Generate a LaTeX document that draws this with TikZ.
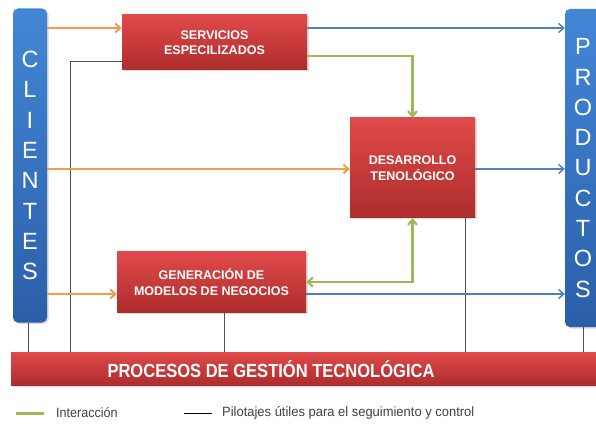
\documentclass[tikz,border=0pt]{standalone}
\usepackage{fontspec}
\setmainfont{Liberation Sans}
\usetikzlibrary{arrows.meta,shadows}
\definecolor{boxtop}{HTML}{E04A4A}
\definecolor{boxbot}{HTML}{AE2C2C}
\definecolor{bartop}{HTML}{4287D6}
\definecolor{barbot}{HTML}{2B5EA9}
\definecolor{orangeA}{HTML}{F39C50}
\definecolor{greenA}{HTML}{9BBB59}
\definecolor{blueA}{HTML}{4F81BD}
\definecolor{pilot}{HTML}{505050}
\definecolor{legtext}{HTML}{404040}
\begin{document}
\begin{tikzpicture}[x=1pt,y=-1pt,
  redbox/.style={draw=none, top color=boxtop, bottom color=boxbot,
    drop shadow={opacity=0.3, shadow xshift=1.5pt, shadow yshift=-1.5pt},
    text=white, font=\bfseries\fontsize{12.5}{15.5}\selectfont, align=center, inner sep=0pt},
  bluebar/.style={draw=none, rounded corners=5pt, top color=bartop, bottom color=barbot,
    drop shadow={opacity=0.3, shadow xshift=1.5pt, shadow yshift=-1.5pt},
    text=white, font=\fontsize{23.5}{30.3}\selectfont, align=center, inner sep=0pt},
  orangearrow/.style={draw=orangeA, line width=2pt, -{Straight Barb[length=5pt,width=9pt]}},
  bluearrow/.style={draw=blueA, line width=1.5pt, -{Straight Barb[length=5pt,width=9pt]}},
  greenarrow/.style={draw=greenA, line width=2.2pt, -{Straight Barb[length=5pt,width=9pt]}},
  pilotline/.style={draw=pilot, line width=0.9pt},
  legendtext/.style={text=legtext, font=\fontsize{13.5}{16}\selectfont, anchor=west, inner sep=0pt}
]
\useasboundingbox (0,0) rectangle (596,427);

% bars
\node[bluebar, minimum width=34pt, minimum height=314pt] (clientes) at (30,165.5)
  {C\\L\\I\\E\\N\\T\\E\\S};
\node[bluebar, minimum width=36pt, minimum height=318pt] (productos) at (583,168)
  {P\\R\\O\\D\\U\\C\\T\\O\\S};
\node[redbox, minimum width=600pt, minimum height=33pt] (procesos) at (311,368.5) {};
\node[text=white, font=\bfseries\fontsize{19}{22}\selectfont, inner sep=0pt] (procesostext) at (271,369)
  {\scalebox{0.87}[1]{PROCESOS DE GESTIÓN TECNOLÓGICA}};

% boxes
\node[redbox, minimum width=185pt, minimum height=55pt] (servicios) at (214.5,42.5)
  {SERVICIOS\\ESPECILIZADOS};
\node[redbox, minimum width=125pt, minimum height=100pt] (desarrollo) at (412.5,168)
  {DESARROLLO\\TENOLÓGICO};
\node[redbox, minimum width=189pt, minimum height=60pt] (generacion) at (211.5,282)
  {GENERACIÓN DE\\MODELOS DE NEGOCIOS};

% pilot lines
\draw[pilotline] (servicios.west |- 0,61) -| (procesos.north -| 70,0);
\draw[pilotline] (clientes.south -| 28,0) -- (procesos.north -| 28,0);
\draw[pilotline] (generacion.south -| 224,0) -- (procesos.north -| 224,0);
\draw[pilotline] (desarrollo.south -| 465,0) -- (procesos.north -| 465,0);
\draw[pilotline] (productos.south) -- (procesos.north -| productos.south);

% orange arrows
\draw[orangearrow] (clientes.east |- 0,28) -- (servicios.west |- 0,28);
\draw[orangearrow] (clientes.east |- 0,169) -- (desarrollo.west |- 0,169);
\draw[orangearrow] (clientes.east |- 0,294) -- (generacion.west |- 0,294);

% blue arrows
\draw[bluearrow] (servicios.east |- 0,28) -- (productos.west |- 0,28);
\draw[bluearrow] (desarrollo.east |- 0,169) -- (productos.west |- 0,169);
\draw[bluearrow] (generacion.east |- 0,294) -- (productos.west |- 0,294);

% green arrows
\draw[greenarrow] (servicios.east |- 0,56) -| (desarrollo.north);
\draw[greenarrow, {Straight Barb[length=5pt,width=9pt]}-{Straight Barb[length=5pt,width=9pt]}]
  (desarrollo.south) |- (generacion.east);

% legend
\coordinate (lg1a) at (16,413);
\coordinate (lg1b) at (44,413);
\draw[draw=greenA, line width=3pt] (lg1a) -- (lg1b);
\node[legendtext] (lgt1) at (56,413) {\scalebox{0.93}[1]{Interacción}};
\coordinate (lg2a) at (184,413);
\coordinate (lg2b) at (212,413);
\draw[draw=black, line width=0.8pt] (lg2a) -- (lg2b);
\node[legendtext] (lgt2) at (222,413) {\scalebox{0.96}[1]{Pilotajes útiles para el seguimiento y control}};
\end{tikzpicture}
\end{document}
